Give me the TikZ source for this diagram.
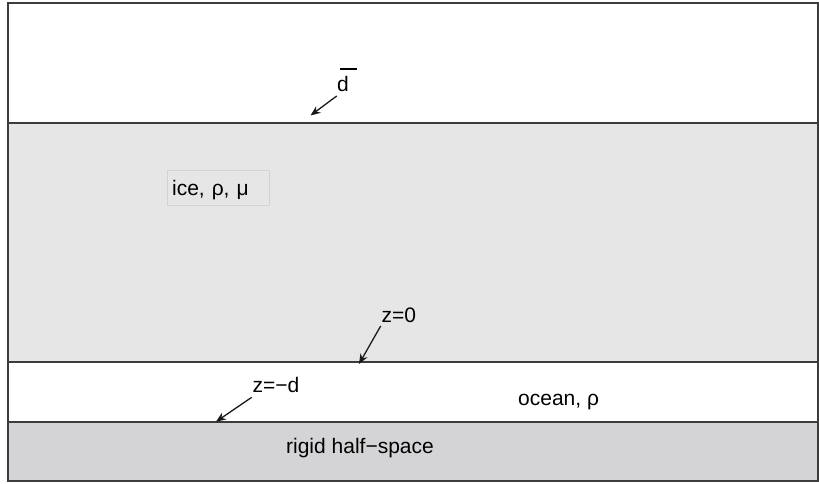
\documentclass[tikz,border=0pt]{standalone}
\usepackage{fontspec}
\setmainfont{Liberation Sans}
\usetikzlibrary{arrows.meta}
\definecolor{icegray}{HTML}{E6E6E7}
\definecolor{rockgray}{HTML}{D4D4D6}
\definecolor{boxgray}{HTML}{D2D2D4}
\definecolor{linegray}{HTML}{3C3C3C}
\begin{document}
\begin{tikzpicture}[x=1pt,y=-1pt,
  lbl/.style={inner sep=0pt, font=\fontsize{21}{24}\selectfont},
  arr/.style={-{Stealth[length=10pt,width=8pt]}, line width=1.3pt, black!90},
  bnd/.style={draw=linegray, line width=1.4pt}]
\useasboundingbox (0,0) rectangle (819,484);
% regions
\fill[icegray] (8,123) rectangle (818,362);
\fill[rockgray] (8,422) rectangle (818,481);
\draw[bnd] (8,3) rectangle (818,481);
\draw[bnd] (8,123) -- (818,123);
\draw[bnd] (8,362) -- (818,362);
\draw[bnd] (8,422) -- (818,422);
% labels
\node[lbl, anchor=base west] (dbar) at (337,92) {d};
\draw[line width=1.6pt] (340,69) -- (357,69);
\node[lbl, draw=boxgray, line width=0.8pt, fill=icegray, anchor=north west,
      minimum width=102.6pt, minimum height=35pt, inner xsep=5pt,
      text width=92.6pt, align=left, text height=15pt, text depth=-1pt] (ice) at (166.7,170) {ice, ρ, μ};
\node[lbl, anchor=base west] (z0) at (381.5,322) {z=0};
\node[lbl, anchor=base west] (zd) at (252.5,392) {z=−d};
\node[lbl, anchor=base west] (ocean) at (518,405) {ocean, ρ};
\node[lbl, anchor=base] (rock) at (360,453) {rigid half−space};
% arrows
\coordinate (a1s) at (336.7,96);
\coordinate (a1e) at (310.5,115.5);
\coordinate (a2s) at (380.7,326);
\coordinate (a2e) at (359,364);
\coordinate (a3s) at (251.7,397.3);
\coordinate (a3e) at (216,421.7);
\draw[arr] (a1s) -- (a1e);
\draw[arr] (a2s) -- (a2e);
\draw[arr] (a3s) -- (a3e);
\end{tikzpicture}
\end{document}
